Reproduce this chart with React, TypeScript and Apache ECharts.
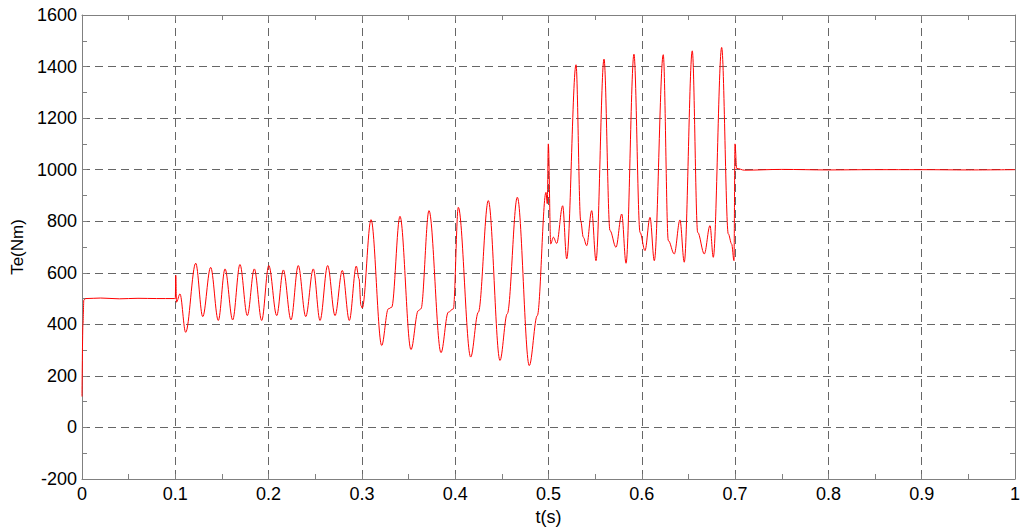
import React, { useEffect, useRef } from "react";
import * as echarts from "echarts";

// Time ticks (s) and torque ticks (Nm)
const xTicks = [0, 0.1, 0.2, 0.3, 0.4, 0.5, 0.6, 0.7, 0.8, 0.9, 1];
const yTicks = [-200, 0, 200, 400, 600, 800, 1000, 1200, 1400, 1600];

// Te(Nm) vs t(s), segment by segment
const startup: [number, number][] = [
  [0, 120], [0.001, 400], [0.002, 495], [0.004, 500], [0.02, 502], [0.04, 499],
  [0.06, 501], [0.08, 500], [0.099, 500],
];
const stage1: [number, number][] = [
  [0.1, 500], [0.1005, 590], [0.1013, 486], [0.105, 518], [0.1111, 369],
  [0.1219, 637], [0.1294, 430], [0.1379, 621], [0.1461, 415], [0.1533, 615],
  [0.1615, 417], [0.1693, 632], [0.1772, 434], [0.1847, 615], [0.1926, 415],
  [0.2002, 628], [0.2087, 434], [0.2158, 611], [0.224, 417], [0.2318, 628],
  [0.2398, 430], [0.2479, 615], [0.2551, 415], [0.2633, 628], [0.2712, 434],
  [0.279, 609], [0.2865, 415], [0.294, 626], [0.2969, 577], [0.299, 473],
];
const stage2: [number, number][] = [
  [0.3004, 463], [0.3098, 806], [0.3212, 318], [0.3283, 460], [0.3319, 466],
  [0.3408, 819], [0.3526, 302], [0.3604, 453], [0.3633, 460], [0.3719, 841],
  [0.3848, 290], [0.3926, 447], [0.398, 460], [0.4033, 854], [0.4166, 273],
  [0.4248, 447], [0.4355, 880], [0.448, 260], [0.4558, 441], [0.4666, 893],
  [0.4794, 240], [0.488, 434], [0.4973, 912], [0.4987, 868],
];
const stage3: [number, number][] = [
  [0.4998, 1100], [0.5024, 712], [0.5052, 738], [0.5088, 714], [0.5152, 860],
  [0.5195, 654], [0.5295, 1407], [0.5345, 802], [0.5373, 738], [0.5409, 705],
  [0.5463, 841], [0.5509, 647], [0.5595, 1429], [0.5659, 764], [0.5723, 699],
  [0.5785, 828], [0.5831, 637], [0.5916, 1448], [0.5981, 757], [0.6034, 686],
  [0.6088, 815], [0.6134, 647], [0.623, 1446], [0.6284, 725], [0.6348, 673],
  [0.6409, 805], [0.6455, 641], [0.6541, 1461], [0.6599, 757], [0.667, 673],
  [0.6731, 783], [0.6766, 660], [0.6856, 1474], [0.6927, 751], [0.6963, 712],
  [0.6988, 647],
];
const stage4: [number, number][] = [
  [0.6999, 1100], [0.7017, 1005], [0.71, 998], [0.75, 1001], [0.8, 999],
  [0.85, 1000], [0.9, 1000], [0.95, 999], [1, 1000],
];

const teData = [...startup, ...stage1, ...stage2, ...stage3, ...stage4];

const FONT = "'Liberation Sans', Arial, sans-serif";
const FRAME = "#808080";
const GRID = "#666666";

export default function App() {
  const ref = useRef<HTMLDivElement>(null);

  useEffect(() => {
    if (!ref.current) return;
    const chart = echarts.init(ref.current, undefined, { renderer: "svg" });

    const xBase = {
      type: "value" as const,
      min: xTicks[0],
      max: xTicks[xTicks.length - 1],
      interval: 0.1,
      axisLine: { show: true, onZero: false, lineStyle: { color: FRAME, width: 1 } },
      axisTick: { show: true, inside: true, length: 5, lineStyle: { color: FRAME } },
      minorTick: { show: true, splitNumber: 2, length: 5, lineStyle: { color: FRAME } },
    };
    const yBase = {
      type: "value" as const,
      min: yTicks[0],
      max: yTicks[yTicks.length - 1],
      interval: 200,
      axisLine: { show: true, onZero: false, lineStyle: { color: FRAME, width: 1 } },
      axisTick: { show: true, inside: true, length: 5, lineStyle: { color: FRAME } },
      minorTick: { show: true, splitNumber: 2, length: 5, lineStyle: { color: FRAME } },
    };

    chart.setOption({
      animation: false,
      backgroundColor: "#ffffff",
      grid: { left: 82, right: 9, top: 15, bottom: 53, containLabel: false },
      xAxis: [
        {
          ...xBase,
          position: "bottom",
          name: "t(s)",
          nameLocation: "middle",
          nameGap: 29,
          nameTextStyle: { fontFamily: FONT, fontSize: 18, color: "#000" },
          axisLabel: {
            show: true,
            margin: 6,
            fontFamily: FONT,
            fontSize: 18,
            color: "#000",
            formatter: (v: number) => String(Math.round(v * 10) / 10),
          },
          splitLine: { show: true, lineStyle: { color: GRID, type: [8, 5], width: 1 } },
        },
        {
          ...xBase,
          position: "top",
          axisLabel: { show: false },
          splitLine: { show: false },
        },
      ],
      yAxis: [
        {
          ...yBase,
          position: "left",
          name: "Te(Nm)",
          nameLocation: "middle",
          nameGap: 56,
          nameRotate: 90,
          nameTextStyle: { fontFamily: FONT, fontSize: 17, color: "#000" },
          axisLabel: {
            show: true,
            margin: 5,
            fontFamily: FONT,
            fontSize: 18,
            color: "#000",
            formatter: (v: number) => String(v),
          },
          splitLine: { show: true, lineStyle: { color: GRID, type: [8, 5], width: 1 } },
        },
        {
          ...yBase,
          position: "right",
          axisLabel: { show: false },
          splitLine: { show: false },
        },
      ],
      series: [
        {
          type: "line",
          data: teData,
          xAxisIndex: 0,
          yAxisIndex: 0,
          showSymbol: false,
          smooth: 0.35,
          smoothMonotone: "x",
          lineStyle: { color: "#ff0000", width: 1 },
          itemStyle: { color: "#ff0000" },
          z: 5,
        },
      ],
    });

    return () => chart.dispose();
  }, []);

  return (
    <div
      ref={ref}
      style={{ position: "fixed", left: 0, top: 0, width: 1024, height: 532, background: "#fff" }}
    />
  );
}
